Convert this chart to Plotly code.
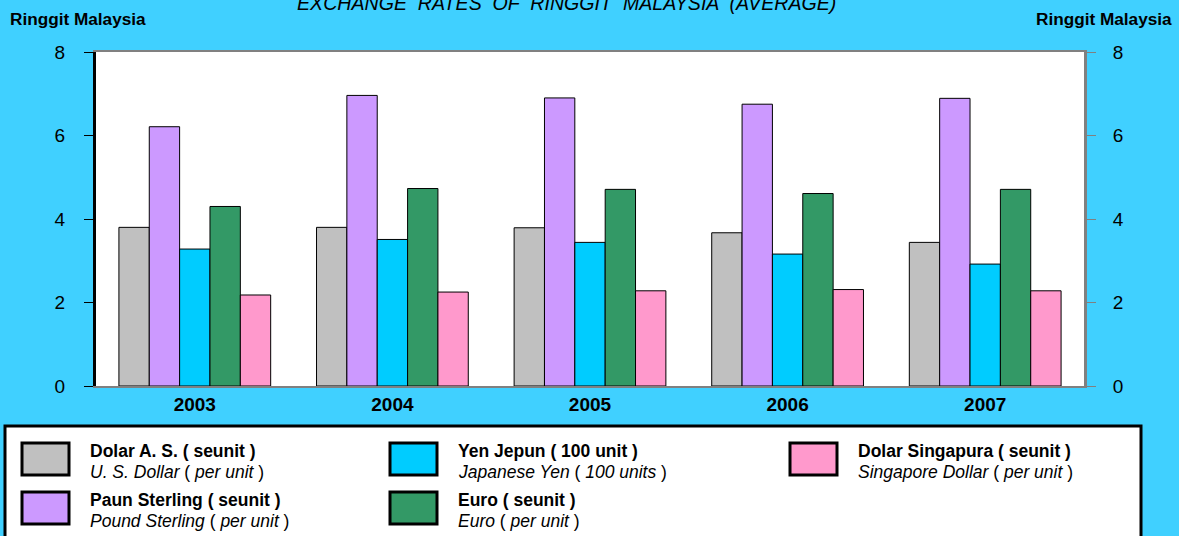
import plotly.graph_objects as go

# ---------------- data ----------------
years = ["2003", "2004", "2005", "2006", "2007"]
usd = [3.80, 3.80, 3.79, 3.67, 3.44]
gbp = [6.21, 6.96, 6.90, 6.75, 6.89]
jpy = [3.28, 3.51, 3.44, 3.16, 2.92]
eur = [4.30, 4.73, 4.71, 4.61, 4.71]
sgd = [2.18, 2.25, 2.28, 2.31, 2.28]

names_ms = ["Dolar A. S. ( seunit )", "Paun Sterling ( seunit )", "Yen Jepun ( 100 unit )",
            "Euro ( seunit )", "Dolar Singapura ( seunit )"]
names_en = ["U. S. Dollar", "Pound Sterling", "Japanese Yen", "Euro", "Singapore Dollar"]
units_en = ["per unit", "per unit", "100 units", "per unit", "per unit"]
colors = ["#C0C0C0", "#CC99FF", "#00CCFF", "#339966", "#FF99CC"]
series = [usd, gbp, jpy, eur, sgd]
y_ticks = [0, 2, 4, 6, 8]
title_text = "EXCHANGE  RATES  OF  RINGGIT  MALAYSIA  (AVERAGE)"
axis_title = "Ringgit Malaysia"

# ---------------- layout geometry (pixels) ----------------
W, H = 1179, 536
L, R, T, B = 96, 1084, 52, 386
FONT = "Liberation Sans, Arial, sans-serif"
BG = "#40d0ff"


def px(x):
    return (x - L) / (R - L)


def py(y):
    return (B - y) / (B - T)


fig = go.Figure()
for name, vals, col in zip(names_ms, series, colors):
    fig.add_trace(go.Bar(x=years, y=vals, name=name, marker=dict(color=col, line=dict(color="black", width=1)),
                         showlegend=False))
# invisible trace to carry the right axis
fig.add_trace(go.Scatter(x=years, y=usd, yaxis="y2", mode="markers", marker=dict(opacity=0),
                         showlegend=False, hoverinfo="skip"))

shapes = []
annotations = []

# legend box
shapes.append(dict(type="rect", xref="paper", yref="paper", x0=px(5), x1=px(1141), y0=py(600), y1=py(426),
                   line=dict(color="black", width=3), fillcolor="white", layer="above"))

cols_sw = [21, 389, 789]
cols_tx = [88, 456, 856]
rows_y = [442, 491]
positions = [(0, 0), (0, 1), (1, 0), (1, 1), (2, 0)]
for i, (c, r) in enumerate(positions):
    x0, y0 = cols_sw[c], rows_y[r]
    shapes.append(dict(type="rect", xref="paper", yref="paper", x0=px(x0 + 1), x1=px(x0 + 48),
                       y0=py(y0 + 33), y1=py(y0 + 1), line=dict(color="black", width=3),
                       fillcolor=colors[i], layer="above"))
    annotations.append(dict(xref="paper", yref="paper", x=px(cols_tx[c]), y=py(y0 + 9), xanchor="left",
                            yanchor="middle", showarrow=False, text="<b>" + names_ms[i] + "</b>",
                            font=dict(family=FONT, size=17.5, color="black")))
    annotations.append(dict(xref="paper", yref="paper", x=px(cols_tx[c]), y=py(y0 + 30), xanchor="left",
                            yanchor="middle", showarrow=False,
                            text="<i>" + names_en[i] + "</i> ( <i>" + units_en[i] + "</i> )",
                            font=dict(family=FONT, size=17.5, color="black")))

# titles
annotations.append(dict(xref="paper", yref="paper", x=px(566), y=py(3), xanchor="center", yanchor="middle",
                        showarrow=False, text="<i>" + title_text + "</i>",
                        font=dict(family=FONT, size=19.6, color="black")))
annotations.append(dict(xref="paper", yref="paper", x=px(8), y=py(19), xanchor="left", yanchor="middle",
                        showarrow=False, text="<b>" + axis_title + "</b>",
                        font=dict(family=FONT, size=17.2, color="black")))
annotations.append(dict(xref="paper", yref="paper", x=px(1174), y=py(19), xanchor="right", yanchor="middle",
                        showarrow=False, text="<b>" + axis_title + "</b>",
                        font=dict(family=FONT, size=17.2, color="black")))

fig.update_layout(
    width=W, height=H,
    margin=dict(l=L, r=W - R, t=T, b=H - B, pad=0),
    paper_bgcolor=BG, plot_bgcolor="white",
    barmode="group", bargap=0.232, bargroupgap=0,
    font=dict(family=FONT, size=19, color="black"),
    xaxis=dict(type="category", showline=True, linecolor="#808080", linewidth=2, mirror=True,
               ticks="", tickfont=dict(family=FONT, size=19), ticklabelstandoff=0,
               tickprefix="<b>", ticksuffix="</b>", showgrid=False, zeroline=False),
    yaxis=dict(range=[0, 8], tickvals=y_ticks, showline=True, linecolor="black", linewidth=3,
               ticks="outside", ticklen=9, tickcolor="black", tickwidth=1, showgrid=False, zeroline=False,
               tickfont=dict(family=FONT, size=19), ticklabelstandoff=15,
               tickprefix="<b>", ticksuffix="</b>"),
    yaxis2=dict(range=[0, 8], tickvals=y_ticks, overlaying="y", side="right", showline=True,
                linecolor="#808080", linewidth=3, ticks="outside", ticklen=9, tickcolor="#808080",
                tickwidth=1, showgrid=False, zeroline=False, tickfont=dict(family=FONT, size=19),
                ticklabelstandoff=13, tickprefix="<b>", ticksuffix="</b>"),
    shapes=shapes, annotations=annotations,
)

fig.write_html("out.html", config={"displayModeBar": False},
               post_script="document.body.style.margin='0px';")
